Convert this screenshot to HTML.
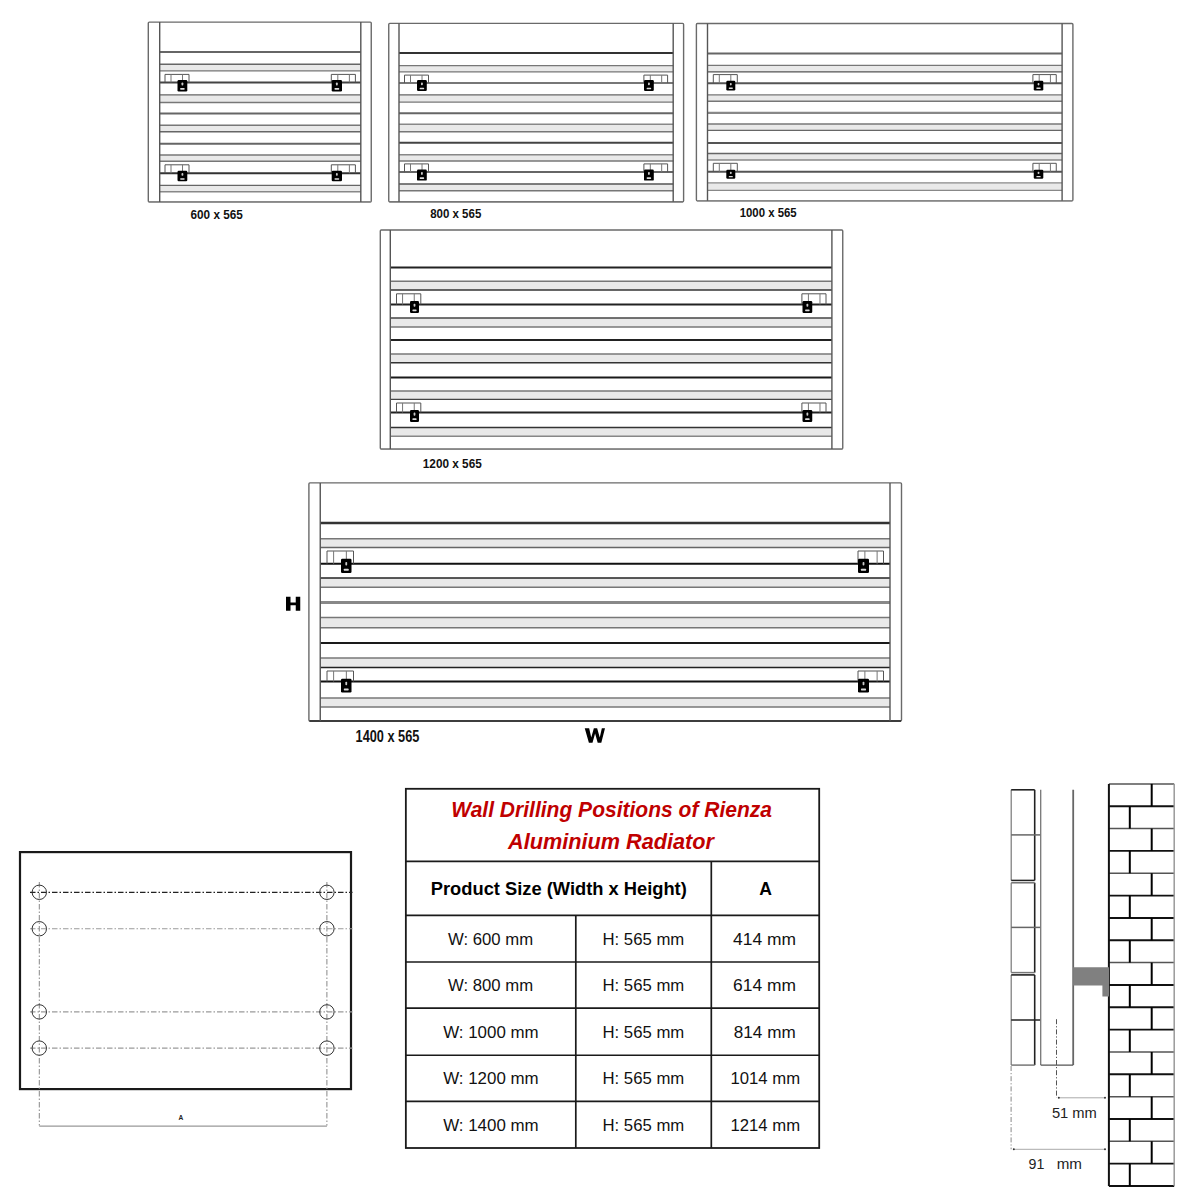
<!DOCTYPE html>
<html><head><meta charset="utf-8"><title>Rienza Aluminium Radiator - Wall Drilling Positions</title>
<style>
html,body{margin:0;padding:0;background:#fff;}
body{width:1200px;height:1200px;overflow:hidden;font-family:"Liberation Sans",sans-serif;}
svg{display:block;}
</style></head><body>
<svg width="1200" height="1200" viewBox="0 0 1200 1200" shape-rendering="auto">
<rect width="1200" height="1200" fill="#fff"/>
<rect x="159.7" y="64.25" width="201.1" height="6.6" fill="#e9e9e9"/><rect x="159.7" y="94.85" width="201.1" height="7.65" fill="#e9e9e9"/><rect x="159.7" y="125.25" width="201.1" height="6.55" fill="#e9e9e9"/><rect x="159.7" y="155" width="201.1" height="6.25" fill="#e9e9e9"/><rect x="159.7" y="185.4" width="201.1" height="6.3" fill="#e9e9e9"/><line x1="159.7" y1="52.1" x2="360.8" y2="52.1" stroke="#666" stroke-width="2"/><line x1="159.7" y1="64.25" x2="360.8" y2="64.25" stroke="#666" stroke-width="1.4"/><line x1="159.7" y1="70.85" x2="360.8" y2="70.85" stroke="#777" stroke-width="1.4"/><line x1="159.7" y1="82.4" x2="360.8" y2="82.4" stroke="#444" stroke-width="2"/><line x1="159.7" y1="94.85" x2="360.8" y2="94.85" stroke="#666" stroke-width="1.4"/><line x1="159.7" y1="102.5" x2="360.8" y2="102.5" stroke="#777" stroke-width="1.4"/><line x1="159.7" y1="113.5" x2="360.8" y2="113.5" stroke="#666" stroke-width="2"/><line x1="159.7" y1="125.25" x2="360.8" y2="125.25" stroke="#777" stroke-width="1.4"/><line x1="159.7" y1="131.8" x2="360.8" y2="131.8" stroke="#666" stroke-width="1.4"/><line x1="159.7" y1="143.75" x2="360.8" y2="143.75" stroke="#666" stroke-width="2"/><line x1="159.7" y1="155" x2="360.8" y2="155" stroke="#777" stroke-width="1.4"/><line x1="159.7" y1="161.25" x2="360.8" y2="161.25" stroke="#777" stroke-width="1.4"/><line x1="159.7" y1="173.3" x2="360.8" y2="173.3" stroke="#333" stroke-width="2"/><line x1="159.7" y1="185.4" x2="360.8" y2="185.4" stroke="#666" stroke-width="1.4"/><line x1="159.7" y1="191.7" x2="360.8" y2="191.7" stroke="#888" stroke-width="1.4"/><rect x="148.3" y="22.1" width="222.95" height="179.8" rx="1" fill="none" stroke="#6a6a6a" stroke-width="1.4"/><line x1="148.8" y1="201.9" x2="370.75" y2="201.9" stroke="#888" stroke-width="1.6"/><line x1="159.7" y1="22.1" x2="159.7" y2="201.9" stroke="#555" stroke-width="1.4"/><line x1="360.8" y1="22.1" x2="360.8" y2="201.9" stroke="#555" stroke-width="1.4"/><path d="M165 82.4 V74.4 H189 V82.4" fill="none" stroke="#555" stroke-width="1"/><line x1="171" y1="74.4" x2="171" y2="82.4" stroke="#777" stroke-width="1"/><line x1="182.52" y1="74.4" x2="182.52" y2="82.4" stroke="#777" stroke-width="1"/><path d="M331.3 82.4 V74.4 H355.4 V82.4" fill="none" stroke="#555" stroke-width="1"/><line x1="337.81" y1="74.4" x2="337.81" y2="82.4" stroke="#777" stroke-width="1"/><line x1="349.38" y1="74.4" x2="349.38" y2="82.4" stroke="#777" stroke-width="1"/><rect x="177.5" y="80" width="9.8" height="11.4" rx="1.2" fill="#000"/><rect x="181.5" y="82.51" width="1.8" height="2.96" rx="0.8" fill="#ccc"/><rect x="180.15" y="87.98" width="4.51" height="1.71" rx="0.6" fill="#ddd"/><rect x="331.7" y="80" width="10.3" height="11.4" rx="1.2" fill="#000"/><rect x="335.95" y="82.51" width="1.8" height="2.96" rx="0.8" fill="#ccc"/><rect x="334.48" y="87.98" width="4.74" height="1.71" rx="0.6" fill="#ddd"/><path d="M165 173.3 V164.8 H189 V173.3" fill="none" stroke="#555" stroke-width="1"/><line x1="171" y1="164.8" x2="171" y2="173.3" stroke="#777" stroke-width="1"/><line x1="182.52" y1="164.8" x2="182.52" y2="173.3" stroke="#777" stroke-width="1"/><path d="M331.3 173.3 V164.8 H355.4 V173.3" fill="none" stroke="#555" stroke-width="1"/><line x1="337.81" y1="164.8" x2="337.81" y2="173.3" stroke="#777" stroke-width="1"/><line x1="349.38" y1="164.8" x2="349.38" y2="173.3" stroke="#777" stroke-width="1"/><rect x="177.5" y="170.8" width="9.8" height="10.5" rx="1.2" fill="#000"/><rect x="181.5" y="173.11" width="1.8" height="2.73" rx="0.8" fill="#ccc"/><rect x="180.15" y="178.15" width="4.51" height="1.57" rx="0.6" fill="#ddd"/><rect x="331.7" y="170.8" width="10.3" height="10.5" rx="1.2" fill="#000"/><rect x="335.95" y="173.11" width="1.8" height="2.73" rx="0.8" fill="#ccc"/><rect x="334.48" y="178.15" width="4.74" height="1.57" rx="0.6" fill="#ddd"/>
<rect x="399" y="65.6" width="274.2" height="6.3" fill="#e9e9e9"/><rect x="399" y="94.85" width="274.2" height="7.25" fill="#e9e9e9"/><rect x="399" y="124.3" width="274.2" height="7.5" fill="#e9e9e9"/><rect x="399" y="154.8" width="274.2" height="6.2" fill="#e9e9e9"/><rect x="399" y="184" width="274.2" height="6.8" fill="#e9e9e9"/><line x1="399" y1="53" x2="673.2" y2="53" stroke="#333" stroke-width="2"/><line x1="399" y1="65.6" x2="673.2" y2="65.6" stroke="#777" stroke-width="1.4"/><line x1="399" y1="71.9" x2="673.2" y2="71.9" stroke="#777" stroke-width="1.4"/><line x1="399" y1="83" x2="673.2" y2="83" stroke="#777" stroke-width="2"/><line x1="399" y1="94.85" x2="673.2" y2="94.85" stroke="#666" stroke-width="1.4"/><line x1="399" y1="102.1" x2="673.2" y2="102.1" stroke="#777" stroke-width="1.4"/><line x1="399" y1="113.3" x2="673.2" y2="113.3" stroke="#666" stroke-width="2"/><line x1="399" y1="124.3" x2="673.2" y2="124.3" stroke="#888" stroke-width="1.4"/><line x1="399" y1="131.8" x2="673.2" y2="131.8" stroke="#777" stroke-width="1.4"/><line x1="399" y1="142.7" x2="673.2" y2="142.7" stroke="#444" stroke-width="2"/><line x1="399" y1="154.8" x2="673.2" y2="154.8" stroke="#888" stroke-width="1.4"/><line x1="399" y1="161" x2="673.2" y2="161" stroke="#777" stroke-width="1.4"/><line x1="399" y1="172.1" x2="673.2" y2="172.1" stroke="#666" stroke-width="2"/><line x1="399" y1="184" x2="673.2" y2="184" stroke="#555" stroke-width="1.4"/><line x1="399" y1="190.8" x2="673.2" y2="190.8" stroke="#777" stroke-width="1.4"/><rect x="388.75" y="23.4" width="294.85" height="178.4" rx="1" fill="none" stroke="#6a6a6a" stroke-width="1.4"/><line x1="389.25" y1="201.8" x2="683.1" y2="201.8" stroke="#777" stroke-width="1.6"/><line x1="399" y1="23.4" x2="399" y2="201.8" stroke="#555" stroke-width="1.4"/><line x1="673.2" y1="23.4" x2="673.2" y2="201.8" stroke="#555" stroke-width="1.4"/><path d="M404.5 83 V75.1 H428.5 V83" fill="none" stroke="#555" stroke-width="1"/><line x1="410.5" y1="75.1" x2="410.5" y2="83" stroke="#777" stroke-width="1"/><line x1="422.02" y1="75.1" x2="422.02" y2="83" stroke="#777" stroke-width="1"/><path d="M643.9 83 V75.1 H667.6 V83" fill="none" stroke="#555" stroke-width="1"/><line x1="650.3" y1="75.1" x2="650.3" y2="83" stroke="#777" stroke-width="1"/><line x1="661.68" y1="75.1" x2="661.68" y2="83" stroke="#777" stroke-width="1"/><rect x="417" y="80" width="9.8" height="11" rx="1.2" fill="#000"/><rect x="421" y="82.42" width="1.8" height="2.86" rx="0.8" fill="#ccc"/><rect x="419.65" y="87.7" width="4.51" height="1.65" rx="0.6" fill="#ddd"/><rect x="644" y="80" width="9.8" height="11" rx="1.2" fill="#000"/><rect x="648" y="82.42" width="1.8" height="2.86" rx="0.8" fill="#ccc"/><rect x="646.65" y="87.7" width="4.51" height="1.65" rx="0.6" fill="#ddd"/><path d="M404.5 172.1 V163.9 H428.5 V172.1" fill="none" stroke="#555" stroke-width="1"/><line x1="410.5" y1="163.9" x2="410.5" y2="172.1" stroke="#777" stroke-width="1"/><line x1="422.02" y1="163.9" x2="422.02" y2="172.1" stroke="#777" stroke-width="1"/><path d="M643.9 172.1 V163.9 H667.6 V172.1" fill="none" stroke="#555" stroke-width="1"/><line x1="650.3" y1="163.9" x2="650.3" y2="172.1" stroke="#777" stroke-width="1"/><line x1="661.68" y1="163.9" x2="661.68" y2="172.1" stroke="#777" stroke-width="1"/><rect x="417" y="169.6" width="9.8" height="11" rx="1.2" fill="#000"/><rect x="421" y="172.02" width="1.8" height="2.86" rx="0.8" fill="#ccc"/><rect x="419.65" y="177.3" width="4.51" height="1.65" rx="0.6" fill="#ddd"/><rect x="644" y="169.6" width="9.8" height="11" rx="1.2" fill="#000"/><rect x="648" y="172.02" width="1.8" height="2.86" rx="0.8" fill="#ccc"/><rect x="646.65" y="177.3" width="4.51" height="1.65" rx="0.6" fill="#ddd"/>
<rect x="707.5" y="65.4" width="354.6" height="6.5" fill="#e9e9e9"/><rect x="707.5" y="94.85" width="354.6" height="6.35" fill="#e9e9e9"/><rect x="707.5" y="124" width="354.6" height="6.4" fill="#e9e9e9"/><rect x="707.5" y="153.5" width="354.6" height="6.5" fill="#e9e9e9"/><rect x="707.5" y="182.9" width="354.6" height="7.5" fill="#e9e9e9"/><line x1="707.5" y1="53.6" x2="1062.1" y2="53.6" stroke="#666" stroke-width="2"/><line x1="707.5" y1="65.4" x2="1062.1" y2="65.4" stroke="#777" stroke-width="1.4"/><line x1="707.5" y1="71.9" x2="1062.1" y2="71.9" stroke="#555" stroke-width="1.4"/><line x1="707.5" y1="83.2" x2="1062.1" y2="83.2" stroke="#555" stroke-width="2"/><line x1="707.5" y1="94.85" x2="1062.1" y2="94.85" stroke="#777" stroke-width="1.4"/><line x1="707.5" y1="101.2" x2="1062.1" y2="101.2" stroke="#777" stroke-width="1.4"/><line x1="707.5" y1="112.9" x2="1062.1" y2="112.9" stroke="#888" stroke-width="2.4"/><line x1="707.5" y1="124" x2="1062.1" y2="124" stroke="#777" stroke-width="1.4"/><line x1="707.5" y1="130.4" x2="1062.1" y2="130.4" stroke="#666" stroke-width="1.4"/><line x1="707.5" y1="142.9" x2="1062.1" y2="142.9" stroke="#555" stroke-width="2"/><line x1="707.5" y1="153.5" x2="1062.1" y2="153.5" stroke="#666" stroke-width="1.4"/><line x1="707.5" y1="160" x2="1062.1" y2="160" stroke="#888" stroke-width="1.4"/><line x1="707.5" y1="171.7" x2="1062.1" y2="171.7" stroke="#555" stroke-width="2"/><line x1="707.5" y1="182.9" x2="1062.1" y2="182.9" stroke="#888" stroke-width="1.4"/><line x1="707.5" y1="190.4" x2="1062.1" y2="190.4" stroke="#888" stroke-width="1.4"/><rect x="696.4" y="23.5" width="376.5" height="177.3" rx="1" fill="none" stroke="#6a6a6a" stroke-width="1.4"/><line x1="696.9" y1="200.8" x2="1072.4" y2="200.8" stroke="#888" stroke-width="1.6"/><line x1="707.5" y1="23.5" x2="707.5" y2="200.8" stroke="#555" stroke-width="1.4"/><line x1="1062.1" y1="23.5" x2="1062.1" y2="200.8" stroke="#555" stroke-width="1.4"/><path d="M713.3 83.2 V74.6 H737.3 V83.2" fill="none" stroke="#555" stroke-width="1"/><line x1="719.3" y1="74.6" x2="719.3" y2="83.2" stroke="#777" stroke-width="1"/><line x1="730.82" y1="74.6" x2="730.82" y2="83.2" stroke="#777" stroke-width="1"/><path d="M1032.9 83.2 V74.6 H1056.25 V83.2" fill="none" stroke="#555" stroke-width="1"/><line x1="1039.2" y1="74.6" x2="1039.2" y2="83.2" stroke="#777" stroke-width="1"/><line x1="1050.41" y1="74.6" x2="1050.41" y2="83.2" stroke="#777" stroke-width="1"/><rect x="726.3" y="80.8" width="9" height="9.6" rx="1.2" fill="#000"/><rect x="729.9" y="82.91" width="1.8" height="2.5" rx="0.8" fill="#ccc"/><rect x="728.73" y="87.52" width="4.14" height="1.44" rx="0.6" fill="#ddd"/><rect x="1033.75" y="80.8" width="9.55" height="9.6" rx="1.2" fill="#000"/><rect x="1037.62" y="82.91" width="1.8" height="2.5" rx="0.8" fill="#ccc"/><rect x="1036.33" y="87.52" width="4.39" height="1.44" rx="0.6" fill="#ddd"/><path d="M713.3 171.7 V163.3 H737.3 V171.7" fill="none" stroke="#555" stroke-width="1"/><line x1="719.3" y1="163.3" x2="719.3" y2="171.7" stroke="#777" stroke-width="1"/><line x1="730.82" y1="163.3" x2="730.82" y2="171.7" stroke="#777" stroke-width="1"/><path d="M1032.9 171.7 V163.3 H1056.25 V171.7" fill="none" stroke="#555" stroke-width="1"/><line x1="1039.2" y1="163.3" x2="1039.2" y2="171.7" stroke="#777" stroke-width="1"/><line x1="1050.41" y1="163.3" x2="1050.41" y2="171.7" stroke="#777" stroke-width="1"/><rect x="726.3" y="169.7" width="9" height="9" rx="1.2" fill="#000"/><rect x="729.9" y="171.68" width="1.8" height="2.34" rx="0.8" fill="#ccc"/><rect x="728.73" y="176" width="4.14" height="1.35" rx="0.6" fill="#ddd"/><rect x="1033.75" y="169.7" width="9.55" height="9" rx="1.2" fill="#000"/><rect x="1037.62" y="171.68" width="1.8" height="2.34" rx="0.8" fill="#ccc"/><rect x="1036.33" y="176" width="4.39" height="1.35" rx="0.6" fill="#ddd"/>
<rect x="390.3" y="281.2" width="441.6" height="8.8" fill="#e9e9e9"/><rect x="390.3" y="318" width="441.6" height="9" fill="#e9e9e9"/><rect x="390.3" y="354" width="441.6" height="8.75" fill="#e9e9e9"/><rect x="390.3" y="391" width="441.6" height="8.4" fill="#e9e9e9"/><rect x="390.3" y="427.5" width="441.6" height="8.75" fill="#e9e9e9"/><line x1="390.3" y1="267.5" x2="831.9" y2="267.5" stroke="#222" stroke-width="2"/><line x1="390.3" y1="281.2" x2="831.9" y2="281.2" stroke="#777" stroke-width="1.4"/><line x1="390.3" y1="290" x2="831.9" y2="290" stroke="#333" stroke-width="1.4"/><line x1="390.3" y1="304.5" x2="831.9" y2="304.5" stroke="#222" stroke-width="2"/><line x1="390.3" y1="318" x2="831.9" y2="318" stroke="#444" stroke-width="1.4"/><line x1="390.3" y1="327" x2="831.9" y2="327" stroke="#777" stroke-width="1.4"/><line x1="390.3" y1="340" x2="831.9" y2="340" stroke="#222" stroke-width="2"/><line x1="390.3" y1="354" x2="831.9" y2="354" stroke="#777" stroke-width="1.4"/><line x1="390.3" y1="362.75" x2="831.9" y2="362.75" stroke="#333" stroke-width="1.4"/><line x1="390.3" y1="377.5" x2="831.9" y2="377.5" stroke="#1a1a1a" stroke-width="2"/><line x1="390.3" y1="391" x2="831.9" y2="391" stroke="#777" stroke-width="1.4"/><line x1="390.3" y1="399.4" x2="831.9" y2="399.4" stroke="#444" stroke-width="1.4"/><line x1="390.3" y1="412.5" x2="831.9" y2="412.5" stroke="#222" stroke-width="2"/><line x1="390.3" y1="427.5" x2="831.9" y2="427.5" stroke="#333" stroke-width="1.4"/><line x1="390.3" y1="436.25" x2="831.9" y2="436.25" stroke="#888" stroke-width="1.4"/><rect x="380.3" y="230" width="462.45" height="219.1" rx="1" fill="none" stroke="#6a6a6a" stroke-width="1.4"/><line x1="380.8" y1="449.1" x2="842.25" y2="449.1" stroke="#888" stroke-width="1.6"/><line x1="390.3" y1="230" x2="390.3" y2="449.1" stroke="#555" stroke-width="1.4"/><line x1="831.9" y1="230" x2="831.9" y2="449.1" stroke="#555" stroke-width="1.4"/><path d="M396.5 304.5 V293.8 H420.8 V304.5" fill="none" stroke="#555" stroke-width="1"/><line x1="402.57" y1="293.8" x2="402.57" y2="304.5" stroke="#777" stroke-width="1"/><line x1="414.24" y1="293.8" x2="414.24" y2="304.5" stroke="#777" stroke-width="1"/><path d="M801.9 304.5 V293.8 H826 V304.5" fill="none" stroke="#555" stroke-width="1"/><line x1="808.41" y1="293.8" x2="808.41" y2="304.5" stroke="#777" stroke-width="1"/><line x1="819.98" y1="293.8" x2="819.98" y2="304.5" stroke="#777" stroke-width="1"/><rect x="410" y="301" width="9" height="12" rx="1.2" fill="#000"/><rect x="413.6" y="303.64" width="1.8" height="3.12" rx="0.8" fill="#ccc"/><rect x="412.43" y="309.4" width="4.14" height="1.8" rx="0.6" fill="#ddd"/><rect x="802.5" y="301" width="9.75" height="12" rx="1.2" fill="#000"/><rect x="806.48" y="303.64" width="1.8" height="3.12" rx="0.8" fill="#ccc"/><rect x="805.13" y="309.4" width="4.49" height="1.8" rx="0.6" fill="#ddd"/><path d="M396.5 412.5 V403 H420.8 V412.5" fill="none" stroke="#555" stroke-width="1"/><line x1="402.57" y1="403" x2="402.57" y2="412.5" stroke="#777" stroke-width="1"/><line x1="414.24" y1="403" x2="414.24" y2="412.5" stroke="#777" stroke-width="1"/><path d="M801.9 412.5 V403 H826 V412.5" fill="none" stroke="#555" stroke-width="1"/><line x1="808.41" y1="403" x2="808.41" y2="412.5" stroke="#777" stroke-width="1"/><line x1="819.98" y1="403" x2="819.98" y2="412.5" stroke="#777" stroke-width="1"/><rect x="410" y="410" width="9" height="11.9" rx="1.2" fill="#000"/><rect x="413.6" y="412.62" width="1.8" height="3.09" rx="0.8" fill="#ccc"/><rect x="412.43" y="418.33" width="4.14" height="1.78" rx="0.6" fill="#ddd"/><rect x="802.5" y="410" width="9.75" height="11.9" rx="1.2" fill="#000"/><rect x="806.48" y="412.62" width="1.8" height="3.09" rx="0.8" fill="#ccc"/><rect x="805.13" y="418.33" width="4.49" height="1.78" rx="0.6" fill="#ddd"/>
<rect x="320.25" y="538.75" width="569.75" height="8.75" fill="#e9e9e9"/><rect x="320.25" y="578" width="569.75" height="9.25" fill="#e9e9e9"/><rect x="320.25" y="617.5" width="569.75" height="10.25" fill="#e9e9e9"/><rect x="320.25" y="658" width="569.75" height="9.5" fill="#e9e9e9"/><rect x="320.25" y="698" width="569.75" height="9" fill="#e9e9e9"/><line x1="320.25" y1="523" x2="890" y2="523" stroke="#333" stroke-width="2.4"/><line x1="320.25" y1="538.75" x2="890" y2="538.75" stroke="#777" stroke-width="1.4"/><line x1="320.25" y1="547.5" x2="890" y2="547.5" stroke="#666" stroke-width="1.4"/><line x1="320.25" y1="563.75" x2="890" y2="563.75" stroke="#111" stroke-width="2"/><line x1="320.25" y1="578" x2="890" y2="578" stroke="#222" stroke-width="1.4"/><line x1="320.25" y1="587.25" x2="890" y2="587.25" stroke="#777" stroke-width="1.4"/><line x1="320.25" y1="602.5" x2="890" y2="602.5" stroke="#888" stroke-width="3"/><line x1="320.25" y1="617.5" x2="890" y2="617.5" stroke="#777" stroke-width="1.4"/><line x1="320.25" y1="627.75" x2="890" y2="627.75" stroke="#777" stroke-width="1.4"/><line x1="320.25" y1="643" x2="890" y2="643" stroke="#1a1a1a" stroke-width="2"/><line x1="320.25" y1="658" x2="890" y2="658" stroke="#777" stroke-width="1.4"/><line x1="320.25" y1="667.5" x2="890" y2="667.5" stroke="#222" stroke-width="1.4"/><line x1="320.25" y1="681.5" x2="890" y2="681.5" stroke="#111" stroke-width="2"/><line x1="320.25" y1="698" x2="890" y2="698" stroke="#777" stroke-width="1.4"/><line x1="320.25" y1="707" x2="890" y2="707" stroke="#777" stroke-width="1.4"/><rect x="308.9" y="482.9" width="592.6" height="238.1" rx="1" fill="none" stroke="#6a6a6a" stroke-width="1.4"/><line x1="309.4" y1="721" x2="901" y2="721" stroke="#222" stroke-width="1.6"/><line x1="320.25" y1="482.9" x2="320.25" y2="721" stroke="#555" stroke-width="1.4"/><line x1="890" y1="482.9" x2="890" y2="721" stroke="#555" stroke-width="1.4"/><path d="M327 563.75 V551 H353.5 V563.75" fill="none" stroke="#555" stroke-width="1"/><line x1="333.62" y1="551" x2="333.62" y2="563.75" stroke="#777" stroke-width="1"/><line x1="346.35" y1="551" x2="346.35" y2="563.75" stroke="#777" stroke-width="1"/><path d="M858 563.75 V551 H883.5 V563.75" fill="none" stroke="#555" stroke-width="1"/><line x1="864.88" y1="551" x2="864.88" y2="563.75" stroke="#777" stroke-width="1"/><line x1="877.12" y1="551" x2="877.12" y2="563.75" stroke="#777" stroke-width="1"/><rect x="341" y="558.75" width="10.5" height="14.25" rx="1.2" fill="#000"/><rect x="345.35" y="561.88" width="1.8" height="3.71" rx="0.8" fill="#ccc"/><rect x="343.83" y="568.73" width="4.83" height="2.14" rx="0.6" fill="#ddd"/><rect x="858" y="558.75" width="11" height="14.25" rx="1.2" fill="#000"/><rect x="862.6" y="561.88" width="1.8" height="3.71" rx="0.8" fill="#ccc"/><rect x="860.97" y="568.73" width="5.06" height="2.14" rx="0.6" fill="#ddd"/><path d="M327 681.5 V671 H353.5 V681.5" fill="none" stroke="#555" stroke-width="1"/><line x1="333.62" y1="671" x2="333.62" y2="681.5" stroke="#777" stroke-width="1"/><line x1="346.35" y1="671" x2="346.35" y2="681.5" stroke="#777" stroke-width="1"/><path d="M858 681.5 V671 H883.5 V681.5" fill="none" stroke="#555" stroke-width="1"/><line x1="864.88" y1="671" x2="864.88" y2="681.5" stroke="#777" stroke-width="1"/><line x1="877.12" y1="671" x2="877.12" y2="681.5" stroke="#777" stroke-width="1"/><rect x="341" y="678.75" width="10.5" height="13.75" rx="1.2" fill="#000"/><rect x="345.35" y="681.77" width="1.8" height="3.58" rx="0.8" fill="#ccc"/><rect x="343.83" y="688.38" width="4.83" height="2.06" rx="0.6" fill="#ddd"/><rect x="858" y="678.75" width="11" height="13.75" rx="1.2" fill="#000"/><rect x="862.6" y="681.77" width="1.8" height="3.58" rx="0.8" fill="#ccc"/><rect x="860.97" y="688.38" width="5.06" height="2.06" rx="0.6" fill="#ddd"/>
<text x="190.5" y="219" textLength="52.3" lengthAdjust="spacingAndGlyphs" font-family="Liberation Sans" font-size="12.5" font-weight="bold" font-style="normal" fill="#111">600 x 565</text>
<text x="430.2" y="218" textLength="51.1" lengthAdjust="spacingAndGlyphs" font-family="Liberation Sans" font-size="12.2" font-weight="bold" font-style="normal" fill="#111">800 x 565</text>
<text x="739.7" y="216.7" textLength="57" lengthAdjust="spacingAndGlyphs" font-family="Liberation Sans" font-size="12.2" font-weight="bold" font-style="normal" fill="#111">1000 x 565</text>
<text x="422.8" y="467.8" textLength="59" lengthAdjust="spacingAndGlyphs" font-family="Liberation Sans" font-size="13.2" font-weight="bold" font-style="normal" fill="#111">1200 x 565</text>
<text x="355.6" y="741.9" textLength="63.8" lengthAdjust="spacingAndGlyphs" font-family="Liberation Sans" font-size="16.8" font-weight="bold" font-style="normal" fill="#111">1400 x 565</text>
<path d="M286 596.75 h4.5 v5.7 h5.25 v-5.7 h4.5 v14 h-4.5 v-5.6 h-5.25 v5.6 h-4.5 z" fill="#000"/>
<path d="M584.75 728.25 h4.4 l2.1 9.3 l2.6 -9.3 h3.3 l2.6 9.3 l2.1 -9.3 h3.15 l-3.7 14.5 h-3.6 l-2.6 -9.2 l-2.6 9.2 h-3.6 z" fill="#000"/>
<rect x="20" y="852.1" width="331" height="237" fill="none" stroke="#1a1a1a" stroke-width="2.2"/>
<line x1="30" y1="892.3" x2="352.5" y2="892.3" stroke="#222" stroke-width="1.3" stroke-dasharray="5.5 2 1.5 2"/>
<line x1="30" y1="928.75" x2="352.5" y2="928.75" stroke="#9a9a9a" stroke-width="1.2" stroke-dasharray="5.5 2 1.5 2"/>
<line x1="30" y1="1011.9" x2="352.5" y2="1011.9" stroke="#9a9a9a" stroke-width="1.2" stroke-dasharray="5.5 2 1.5 2"/>
<line x1="30" y1="1048.1" x2="352.5" y2="1048.1" stroke="#9a9a9a" stroke-width="1.2" stroke-dasharray="5.5 2 1.5 2"/>
<line x1="39.3" y1="882" x2="39.3" y2="1125.6" stroke="#888" stroke-width="1" stroke-dasharray="5.5 2 1.5 2"/>
<line x1="326.9" y1="882" x2="326.9" y2="1125.6" stroke="#888" stroke-width="1" stroke-dasharray="5.5 2 1.5 2"/>
<circle cx="39.3" cy="892.3" r="7.2" fill="none" stroke="#333" stroke-width="1"/>
<circle cx="326.9" cy="892.3" r="7.2" fill="none" stroke="#333" stroke-width="1"/>
<circle cx="39.3" cy="928.75" r="7.2" fill="none" stroke="#333" stroke-width="1"/>
<circle cx="326.9" cy="928.75" r="7.2" fill="none" stroke="#333" stroke-width="1"/>
<circle cx="39.3" cy="1011.9" r="7.2" fill="none" stroke="#333" stroke-width="1"/>
<circle cx="326.9" cy="1011.9" r="7.2" fill="none" stroke="#333" stroke-width="1"/>
<circle cx="39.3" cy="1048.1" r="7.2" fill="none" stroke="#333" stroke-width="1"/>
<circle cx="326.9" cy="1048.1" r="7.2" fill="none" stroke="#333" stroke-width="1"/>
<line x1="39.3" y1="1126.2" x2="326.9" y2="1126.2" stroke="#999" stroke-width="1.2"/>
<text x="178.4" y="1120.3" textLength="4.8" lengthAdjust="spacingAndGlyphs" font-family="Liberation Sans" font-size="6.5" font-weight="bold" font-style="normal" fill="#222">A</text>
<rect x="405.85" y="788.8" width="413.35" height="359.2" fill="none" stroke="#1a1a1a" stroke-width="1.8"/>
<line x1="405.85" y1="861.3" x2="819.2" y2="861.3" stroke="#1a1a1a" stroke-width="1.7"/>
<line x1="405.85" y1="915.3" x2="819.2" y2="915.3" stroke="#1a1a1a" stroke-width="1.7"/>
<line x1="405.85" y1="962" x2="819.2" y2="962" stroke="#1a1a1a" stroke-width="1.7"/>
<line x1="405.85" y1="1008.2" x2="819.2" y2="1008.2" stroke="#1a1a1a" stroke-width="1.7"/>
<line x1="405.85" y1="1055.25" x2="819.2" y2="1055.25" stroke="#1a1a1a" stroke-width="1.7"/>
<line x1="405.85" y1="1101.4" x2="819.2" y2="1101.4" stroke="#1a1a1a" stroke-width="1.7"/>
<line x1="575.8" y1="915.3" x2="575.8" y2="1148" stroke="#1a1a1a" stroke-width="1.7"/>
<line x1="711.3" y1="861.3" x2="711.3" y2="1148" stroke="#1a1a1a" stroke-width="1.7"/>
<text x="451.2" y="817" textLength="320.8" lengthAdjust="spacingAndGlyphs" font-family="Liberation Sans" font-size="21.5" font-weight="bold" font-style="italic" fill="#c00000">Wall Drilling Positions of Rienza</text>
<text x="508.1" y="848.5" textLength="205.9" lengthAdjust="spacingAndGlyphs" font-family="Liberation Sans" font-size="21.5" font-weight="bold" font-style="italic" fill="#c00000">Aluminium Radiator</text>
<text x="430.8" y="895.3" textLength="256" lengthAdjust="spacingAndGlyphs" font-family="Liberation Sans" font-size="17.5" font-weight="bold" font-style="normal" fill="#000">Product Size (Width x Height)</text>
<text x="759.3" y="895.3" textLength="12.7" lengthAdjust="spacingAndGlyphs" font-family="Liberation Sans" font-size="17.5" font-weight="bold" font-style="normal" fill="#000">A</text>
<text x="448" y="944.7" textLength="85.15" lengthAdjust="spacingAndGlyphs" font-family="Liberation Sans" font-size="16.3" font-weight="normal" font-style="normal" fill="#111">W: 600 mm</text>
<text x="602.5" y="944.7" textLength="81.8" lengthAdjust="spacingAndGlyphs" font-family="Liberation Sans" font-size="16.3" font-weight="normal" font-style="normal" fill="#111">H: 565 mm</text>
<text x="733.1" y="944.7" textLength="62.9" lengthAdjust="spacingAndGlyphs" font-family="Liberation Sans" font-size="16.3" font-weight="normal" font-style="normal" fill="#111">414 mm</text>
<text x="448" y="991.25" textLength="85.15" lengthAdjust="spacingAndGlyphs" font-family="Liberation Sans" font-size="16.3" font-weight="normal" font-style="normal" fill="#111">W: 800 mm</text>
<text x="602.5" y="991.25" textLength="81.8" lengthAdjust="spacingAndGlyphs" font-family="Liberation Sans" font-size="16.3" font-weight="normal" font-style="normal" fill="#111">H: 565 mm</text>
<text x="733.1" y="991.25" textLength="62.9" lengthAdjust="spacingAndGlyphs" font-family="Liberation Sans" font-size="16.3" font-weight="normal" font-style="normal" fill="#111">614 mm</text>
<text x="443.2" y="1037.8" textLength="95.5" lengthAdjust="spacingAndGlyphs" font-family="Liberation Sans" font-size="16.3" font-weight="normal" font-style="normal" fill="#111">W: 1000 mm</text>
<text x="602.5" y="1037.8" textLength="81.8" lengthAdjust="spacingAndGlyphs" font-family="Liberation Sans" font-size="16.3" font-weight="normal" font-style="normal" fill="#111">H: 565 mm</text>
<text x="733.8" y="1037.8" textLength="61.9" lengthAdjust="spacingAndGlyphs" font-family="Liberation Sans" font-size="16.3" font-weight="normal" font-style="normal" fill="#111">814 mm</text>
<text x="443.2" y="1084.35" textLength="95.5" lengthAdjust="spacingAndGlyphs" font-family="Liberation Sans" font-size="16.3" font-weight="normal" font-style="normal" fill="#111">W: 1200 mm</text>
<text x="602.5" y="1084.35" textLength="81.8" lengthAdjust="spacingAndGlyphs" font-family="Liberation Sans" font-size="16.3" font-weight="normal" font-style="normal" fill="#111">H: 565 mm</text>
<text x="730.5" y="1084.35" textLength="69.6" lengthAdjust="spacingAndGlyphs" font-family="Liberation Sans" font-size="16.3" font-weight="normal" font-style="normal" fill="#111">1014 mm</text>
<text x="443.2" y="1130.9" textLength="95.5" lengthAdjust="spacingAndGlyphs" font-family="Liberation Sans" font-size="16.3" font-weight="normal" font-style="normal" fill="#111">W: 1400 mm</text>
<text x="602.5" y="1130.9" textLength="81.8" lengthAdjust="spacingAndGlyphs" font-family="Liberation Sans" font-size="16.3" font-weight="normal" font-style="normal" fill="#111">H: 565 mm</text>
<text x="730.5" y="1130.9" textLength="69.6" lengthAdjust="spacingAndGlyphs" font-family="Liberation Sans" font-size="16.3" font-weight="normal" font-style="normal" fill="#111">1214 mm</text>
<line x1="1108.9" y1="783.9" x2="1174.2" y2="783.9" stroke="#555" stroke-width="1.5"/>
<line x1="1108.9" y1="806.24" x2="1174.2" y2="806.24" stroke="#111" stroke-width="1.9"/>
<line x1="1108.9" y1="828.58" x2="1174.2" y2="828.58" stroke="#555" stroke-width="1.5"/>
<line x1="1108.9" y1="850.92" x2="1174.2" y2="850.92" stroke="#111" stroke-width="1.9"/>
<line x1="1108.9" y1="873.26" x2="1174.2" y2="873.26" stroke="#555" stroke-width="1.5"/>
<line x1="1108.9" y1="895.59" x2="1174.2" y2="895.59" stroke="#111" stroke-width="1.9"/>
<line x1="1108.9" y1="917.93" x2="1174.2" y2="917.93" stroke="#111" stroke-width="1.9"/>
<line x1="1108.9" y1="940.27" x2="1174.2" y2="940.27" stroke="#111" stroke-width="1.9"/>
<line x1="1108.9" y1="962.61" x2="1174.2" y2="962.61" stroke="#555" stroke-width="1.5"/>
<line x1="1108.9" y1="984.95" x2="1174.2" y2="984.95" stroke="#111" stroke-width="1.9"/>
<line x1="1108.9" y1="1007.29" x2="1174.2" y2="1007.29" stroke="#111" stroke-width="1.9"/>
<line x1="1108.9" y1="1029.63" x2="1174.2" y2="1029.63" stroke="#111" stroke-width="1.9"/>
<line x1="1108.9" y1="1051.97" x2="1174.2" y2="1051.97" stroke="#555" stroke-width="1.5"/>
<line x1="1108.9" y1="1074.31" x2="1174.2" y2="1074.31" stroke="#111" stroke-width="1.9"/>
<line x1="1108.9" y1="1096.64" x2="1174.2" y2="1096.64" stroke="#555" stroke-width="1.5"/>
<line x1="1108.9" y1="1118.98" x2="1174.2" y2="1118.98" stroke="#111" stroke-width="1.9"/>
<line x1="1108.9" y1="1141.32" x2="1174.2" y2="1141.32" stroke="#555" stroke-width="1.5"/>
<line x1="1108.9" y1="1163.66" x2="1174.2" y2="1163.66" stroke="#111" stroke-width="1.9"/>
<line x1="1108.9" y1="1186" x2="1174.2" y2="1186" stroke="#111" stroke-width="1.9"/>
<line x1="1151.7" y1="783.9" x2="1151.7" y2="806.24" stroke="#000" stroke-width="2"/>
<line x1="1129.8" y1="806.24" x2="1129.8" y2="828.58" stroke="#000" stroke-width="2"/>
<line x1="1151.7" y1="828.58" x2="1151.7" y2="850.92" stroke="#000" stroke-width="2"/>
<line x1="1129.8" y1="850.92" x2="1129.8" y2="873.26" stroke="#000" stroke-width="2"/>
<line x1="1151.7" y1="873.26" x2="1151.7" y2="895.59" stroke="#000" stroke-width="2"/>
<line x1="1129.8" y1="895.59" x2="1129.8" y2="917.93" stroke="#000" stroke-width="2"/>
<line x1="1151.7" y1="917.93" x2="1151.7" y2="940.27" stroke="#000" stroke-width="2"/>
<line x1="1129.8" y1="940.27" x2="1129.8" y2="962.61" stroke="#000" stroke-width="2"/>
<line x1="1151.7" y1="962.61" x2="1151.7" y2="984.95" stroke="#000" stroke-width="2"/>
<line x1="1129.8" y1="984.95" x2="1129.8" y2="1007.29" stroke="#000" stroke-width="2"/>
<line x1="1151.7" y1="1007.29" x2="1151.7" y2="1029.63" stroke="#000" stroke-width="2"/>
<line x1="1129.8" y1="1029.63" x2="1129.8" y2="1051.97" stroke="#000" stroke-width="2"/>
<line x1="1151.7" y1="1051.97" x2="1151.7" y2="1074.31" stroke="#000" stroke-width="2"/>
<line x1="1129.8" y1="1074.31" x2="1129.8" y2="1096.64" stroke="#000" stroke-width="2"/>
<line x1="1151.7" y1="1096.64" x2="1151.7" y2="1118.98" stroke="#000" stroke-width="2"/>
<line x1="1129.8" y1="1118.98" x2="1129.8" y2="1141.32" stroke="#000" stroke-width="2"/>
<line x1="1151.7" y1="1141.32" x2="1151.7" y2="1163.66" stroke="#000" stroke-width="2"/>
<line x1="1129.8" y1="1163.66" x2="1129.8" y2="1186" stroke="#000" stroke-width="2"/>
<line x1="1108.9" y1="783.9" x2="1108.9" y2="1186" stroke="#111" stroke-width="2"/>
<line x1="1174.2" y1="783.9" x2="1174.2" y2="1186" stroke="#999" stroke-width="1.5"/>
<line x1="1011.2" y1="789.8" x2="1011.2" y2="880.4" stroke="#777" stroke-width="1.2"/>
<line x1="1034.7" y1="789.8" x2="1034.7" y2="880.4" stroke="#222" stroke-width="1.6"/>
<line x1="1011.2" y1="789.8" x2="1034.7" y2="789.8" stroke="#222" stroke-width="1.6"/>
<line x1="1011.2" y1="880.4" x2="1034.7" y2="880.4" stroke="#222" stroke-width="1.5"/>
<line x1="1011.2" y1="834.9" x2="1040.6" y2="834.9" stroke="#666" stroke-width="1.5"/>
<line x1="1011.2" y1="882.75" x2="1011.2" y2="972.6" stroke="#777" stroke-width="1.2"/>
<line x1="1034.7" y1="882.75" x2="1034.7" y2="972.6" stroke="#222" stroke-width="1.6"/>
<line x1="1011.2" y1="882.75" x2="1034.7" y2="882.75" stroke="#777" stroke-width="1.6"/>
<line x1="1011.2" y1="972.6" x2="1034.7" y2="972.6" stroke="#777" stroke-width="1.5"/>
<line x1="1011.2" y1="927.4" x2="1040.6" y2="927.4" stroke="#666" stroke-width="1.5"/>
<line x1="1011.2" y1="974.9" x2="1011.2" y2="1065.1" stroke="#777" stroke-width="1.2"/>
<line x1="1034.7" y1="974.9" x2="1034.7" y2="1065.1" stroke="#222" stroke-width="1.6"/>
<line x1="1011.2" y1="974.9" x2="1034.7" y2="974.9" stroke="#222" stroke-width="1.6"/>
<line x1="1011.2" y1="1065.1" x2="1034.7" y2="1065.1" stroke="#777" stroke-width="1.5"/>
<line x1="1011.2" y1="1020" x2="1040.6" y2="1020" stroke="#222" stroke-width="1.5"/>
<line x1="1040.7" y1="789.8" x2="1040.7" y2="1065.1" stroke="#777" stroke-width="1.3"/>
<line x1="1073.2" y1="789.8" x2="1073.2" y2="1065.1" stroke="#666" stroke-width="1.8"/>
<line x1="1040.7" y1="1065.1" x2="1073.2" y2="1065.1" stroke="#555" stroke-width="1.3"/>
<path d="M1073.2 967.3 H1109 V996.5 H1102.4 V985.4 H1073.2 Z" fill="#808080"/>
<line x1="1056.5" y1="1019.2" x2="1056.5" y2="1097.8" stroke="#555" stroke-width="1" stroke-dasharray="5 2 1.2 2"/>
<line x1="1058.5" y1="1097.8" x2="1105" y2="1097.8" stroke="#aaa" stroke-width="1"/>
<circle cx="1058.8" cy="1097.8" r="1" fill="#333"/><circle cx="1105" cy="1097.8" r="1" fill="#333"/>
<line x1="1011.1" y1="1066" x2="1011.1" y2="1149.3" stroke="#888" stroke-width="1" stroke-dasharray="5 2 1.2 2"/>
<line x1="1013.5" y1="1149.3" x2="1105" y2="1149.3" stroke="#aaa" stroke-width="1"/>
<circle cx="1013.8" cy="1149.3" r="1" fill="#333"/><circle cx="1105" cy="1149.3" r="1" fill="#333"/>
<text x="1051.9" y="1118.3" textLength="45" lengthAdjust="spacingAndGlyphs" font-family="Liberation Sans" font-size="15" font-weight="normal" font-style="normal" fill="#222">51 mm</text>
<text x="1028.5" y="1169.2" textLength="15.8" lengthAdjust="spacingAndGlyphs" font-family="Liberation Sans" font-size="15" font-weight="normal" font-style="normal" fill="#222">91</text>
<text x="1056.7" y="1169.2" textLength="25.3" lengthAdjust="spacingAndGlyphs" font-family="Liberation Sans" font-size="15" font-weight="normal" font-style="normal" fill="#222">mm</text>
</svg>
</body></html>
